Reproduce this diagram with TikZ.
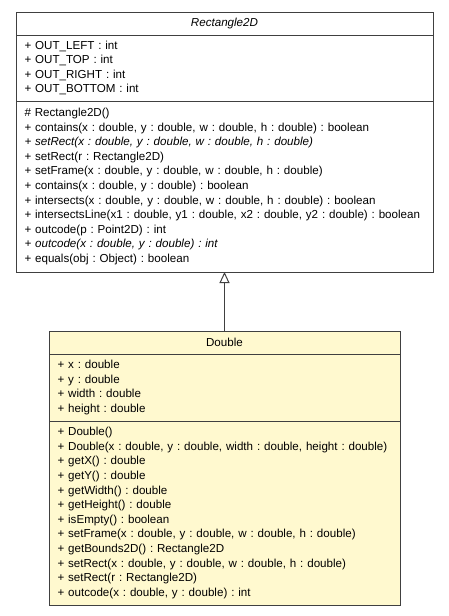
\documentclass[tikz,border=0pt]{standalone}
\usepackage{fontspec}
\setmainfont{Liberation Sans}
\usetikzlibrary{arrows.meta}
\usetikzlibrary{positioning}
\definecolor{linecol}{HTML}{404040}
\definecolor{classfill}{HTML}{FFF9CF}
\frenchspacing

\begin{document}
\begin{tikzpicture}[x=1pt,y=-1pt,
      box/.style={draw=linecol, line width=1pt, outer sep=0pt, inner ysep=1pt,
        font=\fontsize{11.6}{14.6}\selectfont},
      title/.style={box, align=center, minimum height=23pt},
      part/.style={box, align=left, inner xsep=8.5pt},
      inherit/.style={-{Triangle[open, length=11pt, width=10pt]}, line width=1pt, draw=linecol}]
    \useasboundingbox (0,0) rectangle (448,616);
    % abstract base class
    \node[title, minimum width=417pt, anchor=north] (rtitle) at (224.5,12) {\itshape Rectangle2D};
    \node[part, text width=400pt, minimum height=66pt, below=0pt of rtitle] (rattr)
    {+ OUT\_LEFT : int\\
     + OUT\_TOP : int\\
     + OUT\_RIGHT : int\\
     + OUT\_BOTTOM : int};
    \node[part, text width=400pt, minimum height=171pt, below=0pt of rattr] (rops)
    {\# Rectangle2D()\\
     + contains(x : double, y : double, w : double, h : double) : boolean\\
     \textit{+ setRect(x : double, y : double, w : double, h : double)}\\
     + setRect(r : Rectangle2D)\\
     + setFrame(x : double, y : double, w : double, h : double)\\
     + contains(x : double, y : double) : boolean\\
     + intersects(x : double, y : double, w : double, h : double) : boolean\\
     + intersectsLine(x1 : double, y1 : double, x2 : double, y2 : double) : boolean\\
     + outcode(p : Point2D) : int\\
     \textit{+ outcode(x : double, y : double) : int}\\
     + equals(obj : Object) : boolean};
    % nested subclass
    \node[title, fill=classfill, minimum width=351pt, anchor=north] (dtitle) at (224.5,331) {Double};
    \node[part, fill=classfill, text width=334pt, minimum height=67pt, below=0pt of dtitle] (dattr)
    {+ x : double\\
     + y : double\\
     + width : double\\
     + height : double};
    \node[part, fill=classfill, text width=334pt, minimum height=184pt, below=0pt of dattr] (dops)
    {+ Double()\\
     + Double(x : double, y : double, width : double, height : double)\\
     + getX() : double\\
     + getY() : double\\
     + getWidth() : double\\
     + getHeight() : double\\
     + isEmpty() : boolean\\
     + setFrame(x : double, y : double, w : double, h : double)\\
     + getBounds2D() : Rectangle2D\\
     + setRect(x : double, y : double, w : double, h : double)\\
     + setRect(r : Rectangle2D)\\
     + outcode(x : double, y : double) : int};
    \draw[inherit] (dtitle.north) -- (rops.south);
  \end{tikzpicture}
\end{document}
